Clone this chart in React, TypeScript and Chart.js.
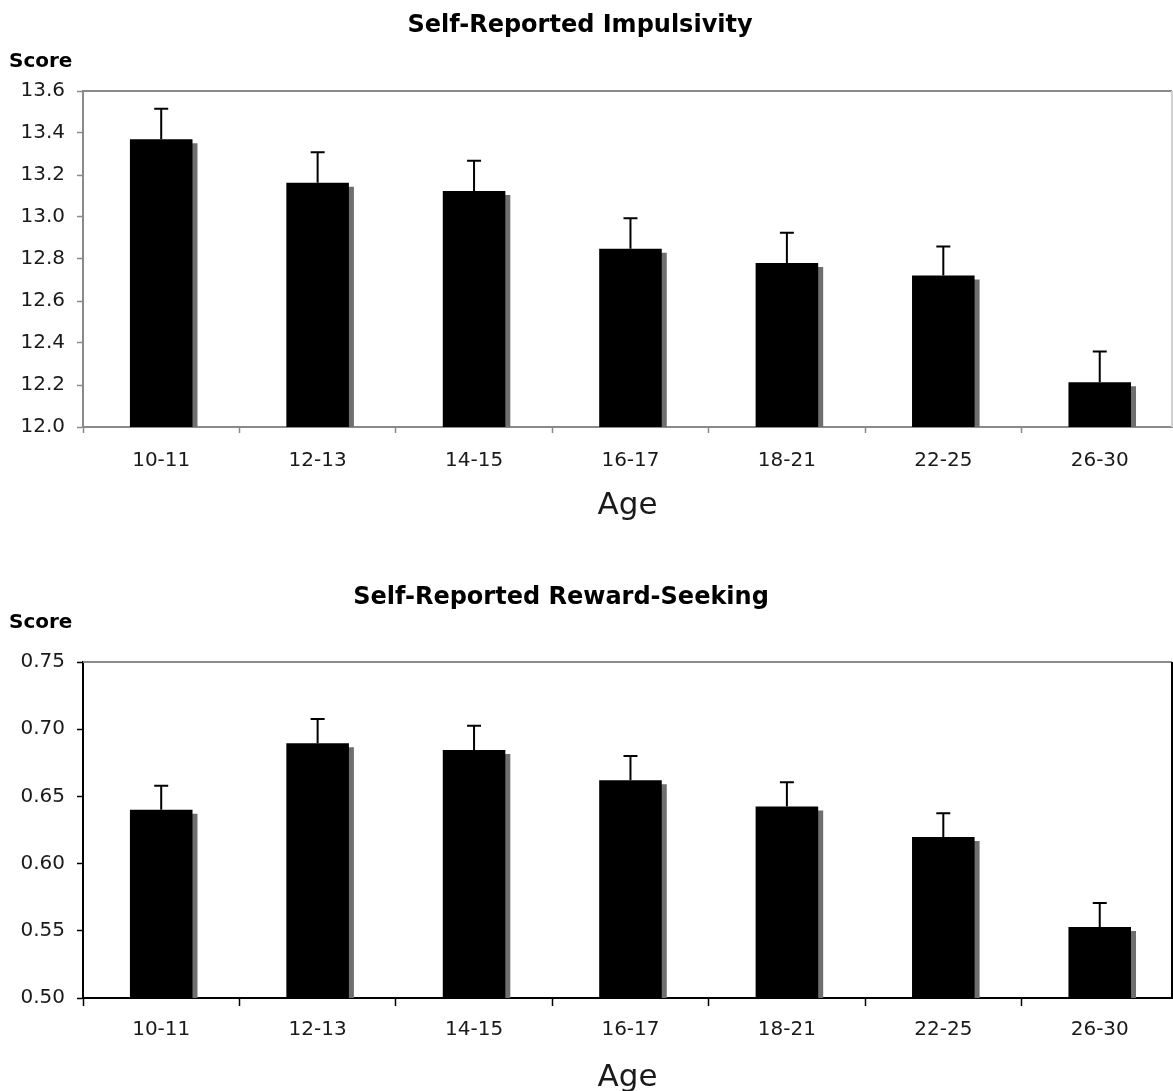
import React, { useEffect, useRef } from 'react';
import { Chart, registerables } from 'chart.js';

Chart.register(...registerables);

// ---- data ----
const ageGroups = ['10-11', '12-13', '14-15', '16-17', '18-21', '22-25', '26-30'];

const impulsivityMeans = [13.37, 13.163, 13.124, 12.849, 12.781, 12.721, 12.213];
const impulsivityErrors = [0.146, 0.145, 0.144, 0.145, 0.144, 0.139, 0.146];
const impulsivityAxis = { min: 12.0, max: 13.6, step: 0.2, decimals: 1 };

const rewardMeans = [0.640, 0.6896, 0.6846, 0.6621, 0.6425, 0.6198, 0.5529];
const rewardErrors = [0.018, 0.018, 0.018, 0.018, 0.018, 0.0176, 0.0178];
const rewardAxis = { min: 0.5, max: 0.75, step: 0.05, decimals: 2 };

const FONT = '"DejaVu Sans", Verdana, sans-serif';
const TEXT = '#1a1a1a';

type PanelProps = {
  title: string;
  titleX: number;
  titleY: number;
  scoreY: number;
  values: number[];
  errors: number[];
  axis: { min: number; max: number; step: number; decimals: number };
  height: number;
  areaTop: number;
  areaBottom: number;
  xTickLen: number;
  xTickPad: number;
  agePad: number;
  axisColor: string;
  rightBorderColor: string;
};

function Panel(p: PanelProps) {
  const ref = useRef<HTMLCanvasElement>(null);

  useEffect(() => {
    const canvas = ref.current;
    if (!canvas) return;

    const shadowPlugin = {
      id: 'barShadow',
      beforeDatasetDraw(chart: any) {
        const c = chart.ctx;
        c.save();
        c.shadowColor = '#6f6f6f';
        c.shadowOffsetX = 5;
        c.shadowOffsetY = 4;
        c.shadowBlur = 0;
      },
      afterDatasetDraw(chart: any) {
        chart.ctx.restore();
      },
    };

    const errorPlugin = {
      id: 'errorBars',
      afterDatasetsDraw(chart: any) {
        const meta = chart.getDatasetMeta(0);
        const y = chart.scales.y;
        const ctx = chart.ctx;
        ctx.save();
        ctx.strokeStyle = '#000';
        ctx.lineWidth = 2;
        meta.data.forEach((bar: any, i: number) => {
          const top = y.getPixelForValue(p.values[i] + p.errors[i]);
          ctx.beginPath();
          ctx.moveTo(bar.x, bar.y);
          ctx.lineTo(bar.x, top);
          ctx.moveTo(bar.x - 7, top);
          ctx.lineTo(bar.x + 7, top);
          ctx.stroke();
        });
        ctx.restore();
      },
    };

    const framePlugin = {
      id: 'frame',
      afterDraw(chart: any) {
        const ctx = chart.ctx;
        const a = chart.chartArea;
        ctx.save();
        ctx.strokeStyle = '#8a8a8a';
        ctx.lineWidth = 2;
        ctx.beginPath();
        ctx.moveTo(a.left, a.top);
        ctx.lineTo(a.right, a.top);
        ctx.stroke();
        ctx.strokeStyle = p.rightBorderColor;
        ctx.beginPath();
        ctx.moveTo(a.right, a.top);
        ctx.lineTo(a.right, a.bottom);
        ctx.stroke();
        ctx.fillStyle = '#000';
        ctx.textBaseline = 'middle';
        ctx.font = `bold 24px ${FONT}`;
        ctx.textAlign = 'center';
        ctx.fillText(p.title, p.titleX, p.titleY);
        ctx.font = `bold 20px ${FONT}`;
        ctx.textAlign = 'left';
        ctx.fillText('Score', 9, p.scoreY);
        ctx.restore();
      },
    };

    const chart = new Chart(canvas, {
      type: 'bar',
      data: {
        labels: ageGroups,
        datasets: [
          {
            data: p.values,
            backgroundColor: '#000',
            borderWidth: 0,
            barPercentage: 0.4,
            categoryPercentage: 1,
            clip: 0,
          } as any,
        ],
      },
      options: {
        responsive: false,
        animation: false,
        layout: { padding: { top: p.areaTop, left: 0, right: 1, bottom: 0 } },
        plugins: {
          legend: { display: false },
          tooltip: { enabled: false },
          title: { display: false },
        },
        scales: {
          x: {
            afterBuildTicks: (scale: any) => {
              // the plot frame ends slightly before the last category boundary
              scale._valueRange = 6.962;
            },
            afterFit: (scale: any) => {
              scale.height = p.height - p.areaBottom;
            },
            grid: {
              offset: true,
              drawOnChartArea: false,
              drawTicks: true,
              tickLength: p.xTickLen,
              tickColor: p.axisColor,
              tickWidth: 1.5,
            },
            border: { display: true, color: p.axisColor, width: 2 },
            ticks: {
              font: { family: FONT, size: 20 },
              color: TEXT,
              padding: p.xTickPad,
              maxRotation: 0,
            },
            title: {
              display: true,
              text: 'Age',
              font: { family: FONT, size: 31 },
              color: TEXT,
              padding: { top: 0, bottom: p.agePad },
            },
          },
          y: {
            min: p.axis.min,
            max: p.axis.max,
            afterFit: (scale: any) => {
              scale.width = 83;
            },
            grid: {
              drawOnChartArea: false,
              drawTicks: true,
              tickLength: 6,
              tickColor: p.axisColor,
              tickWidth: 1.5,
            },
            border: { display: true, color: p.axisColor, width: 2 },
            ticks: {
              stepSize: p.axis.step,
              font: { family: FONT, size: 20 },
              color: TEXT,
              padding: 12,
              callback: (v: any) => Number(v).toFixed(p.axis.decimals),
            },
          },
        },
      },
      plugins: [shadowPlugin, errorPlugin, framePlugin],
    });

    return () => chart.destroy();
  }, []);

  return (
    <div style={{ width: 1173, height: p.height, position: 'relative' }}>
      <canvas ref={ref} width={1173} height={p.height} style={{ display: 'block' }} />
    </div>
  );
}

export default function App() {
  return (
    <div
      style={{
        position: 'absolute',
        left: 0,
        top: 0,
        width: 1173,
        height: 1091,
        overflow: 'hidden',
        background: '#fff',
      }}
    >
      <Panel
        title="Self-Reported Impulsivity"
        titleX={580}
        titleY={26}
        scoreY={62}
        values={impulsivityMeans}
        errors={impulsivityErrors}
        axis={impulsivityAxis}
        height={546}
        areaTop={91}
        areaBottom={427}
        xTickLen={6}
        xTickPad={16}
        agePad={21}
        axisColor="#8a8a8a"
        rightBorderColor="#d0d0d0"
      />
      <Panel
        title="Self-Reported Reward-Seeking"
        titleX={561}
        titleY={52}
        scoreY={77}
        values={rewardMeans}
        errors={rewardErrors}
        axis={rewardAxis}
        height={560}
        areaTop={116}
        areaBottom={452}
        xTickLen={8}
        xTickPad={12}
        agePad={9}
        axisColor="#000"
        rightBorderColor="#000"
      />
    </div>
  );
}
